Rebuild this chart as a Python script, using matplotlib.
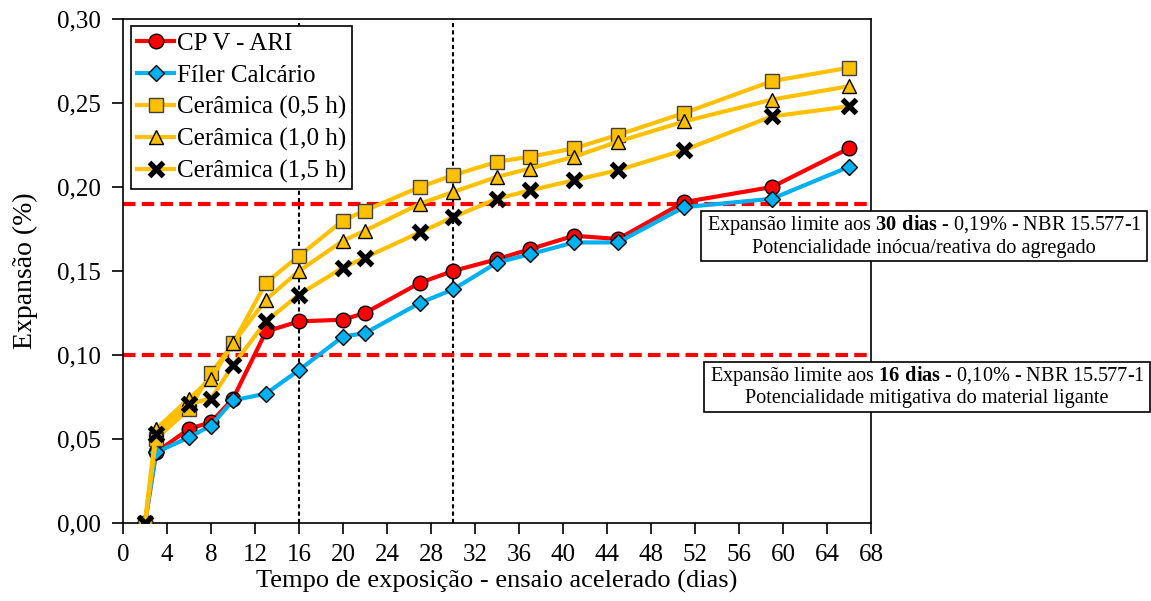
import numpy as np
import matplotlib
matplotlib.use("Agg")
import matplotlib.pyplot as plt
from matplotlib.patches import Rectangle

plt.rcParams['font.family'] = ['Liberation Serif', 'DejaVu Serif']
plt.rcParams['mathtext.fontset'] = 'custom'
plt.rcParams['mathtext.rm'] = 'Liberation Serif'
plt.rcParams['mathtext.bf'] = 'Liberation Serif:bold'

# dias de exposicao
dias = [2, 3, 6, 8, 10, 13, 16, 20, 22, 27, 30, 34, 37, 41, 45, 51, 59, 66]

# expansao (%)
cpv_ari = [0.000, 0.042, 0.056, 0.060, 0.074, 0.114, 0.120, 0.121, 0.125, 0.143, 0.150,
           0.157, 0.163, 0.171, 0.169, 0.191, 0.200, 0.223]
filer = [0.000, 0.042, 0.051, 0.058, 0.073, 0.077, 0.091, 0.111, 0.113, 0.131, 0.139,
         0.155, 0.160, 0.167, 0.167, 0.188, 0.193, 0.212]
ceram_05 = [0.000, 0.050, 0.068, 0.089, 0.107, 0.143, 0.159, 0.180, 0.186, 0.200, 0.207,
            0.215, 0.218, 0.223, 0.231, 0.244, 0.263, 0.271]
ceram_10 = [0.000, 0.056, 0.074, 0.086, 0.107, 0.133, 0.150, 0.168, 0.174, 0.190, 0.197,
            0.206, 0.211, 0.218, 0.227, 0.239, 0.252, 0.260]
ceram_15 = [0.000, 0.053, 0.071, 0.074, 0.094, 0.120, 0.136, 0.152, 0.158, 0.173, 0.182,
            0.193, 0.198, 0.204, 0.210, 0.222, 0.242, 0.248]

limite_30 = 0.19
limite_16 = 0.10
dias_limite = [16, 30]

xticks = np.arange(0, 69, 4)
yticks = np.arange(0, 0.301, 0.05)

fig = plt.figure(figsize=(11.51, 6.01), dpi=100)
ax = fig.add_axes([0.1069, 0.1298, 0.6498, 0.8386])

red = '#FF0000'
blue = '#00B0F0'
yel = '#FFC000'

for d in dias_limite:
    ax.axvline(d, color='black', lw=1.5, dashes=(2, 1.5), zorder=1)
for lim in [limite_30, limite_16]:
    ax.axhline(lim, color=red, lw=3, dashes=(3, 1.5), zorder=1.5)

ax.plot(dias, cpv_ari, color=red, lw=3, marker='o', ms=10.5, mfc=red, mec='black', mew=1,
        label='CP V - ARI', zorder=3)
ax.plot(dias, filer, color=blue, lw=3, marker='D', ms=8, mfc=blue, mec='black', mew=1,
        label='Fíler Calcário', zorder=3)
ax.plot(dias, ceram_05, color=yel, lw=3, marker='s', ms=10.5, mfc=yel, mec='#404040', mew=1,
        label='Cerâmica (0,5 h)', zorder=3)
ax.plot(dias, ceram_10, color=yel, lw=3, marker='^', ms=10.5, mfc=yel, mec='black', mew=1,
        label='Cerâmica (1,0 h)', zorder=3)
ax.plot(dias, ceram_15, color=yel, lw=3, marker='x', ms=10, mec='black', mew=3.8,
        label='Cerâmica (1,5 h)', zorder=3)

ax.set_xlim(0, 68)
ax.set_ylim(0, 0.30)
ax.set_xticks(xticks)
ax.set_yticks(yticks)
ax.set_yticklabels([f'{v:.2f}'.replace('.', ',') for v in yticks])
ax.tick_params(axis='both', direction='out', length=8, width=1.2, labelsize=18)
ax.tick_params(axis='x', pad=7)
ax.tick_params(axis='y', pad=8)
for s in ax.spines.values():
    s.set_linewidth(1.2)

ax.set_xlabel('Tempo de exposição - ensaio acelerado (dias)', fontsize=19, labelpad=3)
ax.set_ylabel('Expansão (%)', fontsize=20, labelpad=14)

leg = ax.legend(loc='upper left', fontsize=18, frameon=True, fancybox=False,
                edgecolor='black', framealpha=1, handlelength=1.5, handletextpad=0.1,
                labelspacing=0.36, borderpad=0.25, borderaxespad=0.3)
leg.get_frame().set_linewidth(1.2)

# caixas de texto dos limites
W, H = 1151, 601
caixas = [
    (701, 211, r'Expansão limite aos $\mathbf{30\ dias}$ - 0,19% - NBR 15.577-1',
     'Potencialidade inócua/reativa do agregado'),
    (704, 362, r'Expansão limite aos $\mathbf{16\ dias}$ - 0,10% - NBR 15.577-1',
     'Potencialidade mitigativa do material ligante'),
]
for x0, y0, l1, l2 in caixas:
    fig.add_artist(Rectangle((x0 / W, 1 - (y0 + 50) / H), 446 / W, 50 / H,
                             transform=fig.transFigure, fill=True, facecolor='white',
                             edgecolor='black', lw=1.2, zorder=5))
    fig.text((x0 + 223) / W, 1 - (y0 + 14) / H, l1, ha='center', va='center',
             fontsize=14.6, zorder=6)
    fig.text((x0 + 223) / W, 1 - (y0 + 37) / H, l2, ha='center', va='center',
             fontsize=14.6, zorder=6)

fig.savefig('out.png', dpi=100)
